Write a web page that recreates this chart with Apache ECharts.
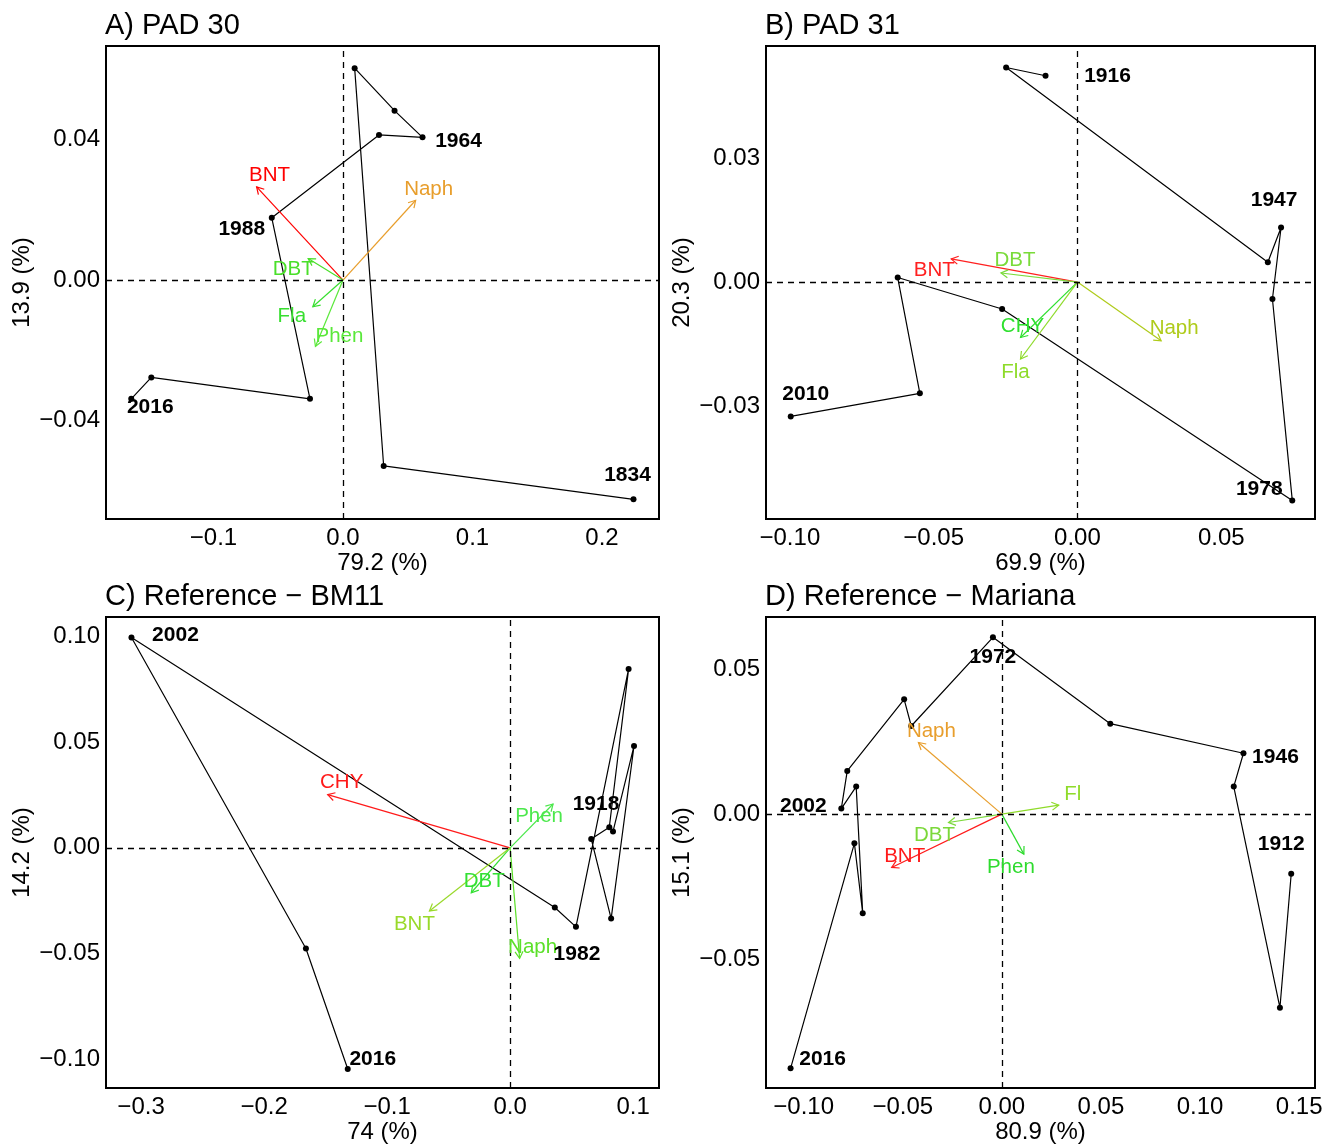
<!DOCTYPE html>
<html><head><meta charset="utf-8">
<script src="https://cdn.jsdelivr.net/npm/echarts@6/dist/echarts.min.js"></script>
<style>html,body{margin:0;padding:0;background:#fff}#c{width:1328px;height:1145px}</style>
</head><body><div id="c"></div>
<script>
// ---------- DATA ----------
// Panel A) PAD 30
const A_siteX = [0.2243, 0.0314, 0.0090, 0.0398, 0.0614, 0.0278, -0.0550, -0.0255, -0.1480, -0.1635];
const A_siteY = [-0.0624, -0.0529, 0.0603, 0.0482, 0.0406, 0.0413, 0.0177, -0.0338, -0.0277, -0.0338];
const A_years = ['1834', '1964', '1988', '2016'];
const A_yearSite = [0, 4, 6, 9];
const A_vars = ['BNT', 'Naph', 'DBT', 'Fla', 'Phen'];
const A_varX = [-0.0667, 0.0561, -0.0269, -0.0233, -0.0213];
const A_varY = [0.0265, 0.0227, 0.0061, -0.0076, -0.0189];
const A_xTicks = [-0.1, 0, 0.1, 0.2];
const A_xTickLabels = ['\u22120.1', '0.0', '0.1', '0.2'];
const A_yTicks = [-0.04, 0, 0.04];
const A_yTickLabels = ['\u22120.04', '0.00', '0.04'];

// Panel B) PAD 31
const B_siteX = [-0.0111, -0.0248, 0.0662, 0.0708, 0.0678, 0.0747, -0.0262, -0.0625, -0.0548, -0.0997];
const B_siteY = [0.0499, 0.0519, 0.0048, 0.0132, -0.0041, -0.0528, -0.0065, 0.0011, -0.0269, -0.0325];
const B_years = ['1916', '1947', '1978', '2010'];
const B_yearSite = [0, 3, 5, 9];
const B_vars = ['BNT', 'DBT', 'CHY', 'Fla', 'Naph'];
const B_varX = [-0.0439, -0.0266, -0.0198, -0.0198, 0.0291];
const B_varY = [0.0056, 0.0022, -0.0134, -0.0186, -0.0142];
const B_xTicks = [-0.10, -0.05, 0, 0.05];
const B_xTickLabels = ['\u22120.10', '\u22120.05', '0.00', '0.05'];
const B_yTicks = [-0.03, 0, 0.03];
const B_yTickLabels = ['\u22120.03', '0.00', '0.03'];

// Panel C) Reference - BM11
const C_siteX = [0.0836, 0.1007, 0.0821, 0.0659, 0.0806, 0.0963, 0.0535, 0.0363, -0.3078, -0.1660, -0.1320];
const C_siteY = [0.0077, 0.0481, -0.0334, 0.0042, 0.0097, 0.0845, -0.0373, -0.0282, 0.0993, -0.0475, -0.1044];
const C_years = ['1918', '1982', '2002', '2016'];
const C_yearSite = [0, 6, 8, 10];
const C_vars = ['CHY', 'Phen', 'DBT', 'BNT', 'Naph'];
const C_varX = [-0.1483, 0.0349, -0.0316, -0.0656, 0.0077];
const C_varY = [0.0251, 0.0207, -0.0212, -0.0298, -0.0522];
const C_xTicks = [-0.3, -0.2, -0.1, 0, 0.1];
const C_xTickLabels = ['\u22120.3', '\u22120.2', '\u22120.1', '0.0', '0.1'];
const C_yTicks = [-0.10, -0.05, 0, 0.05, 0.10];
const C_yTickLabels = ['\u22120.10', '\u22120.05', '0.00', '0.05', '0.10'];

// Panel D) Reference - Mariana
const D_siteX = [0.1460, 0.1403, 0.1170, 0.1219, 0.0547, -0.0045, -0.0457, -0.0493, -0.0780, -0.0810, -0.0735, -0.0702, -0.0744, -0.1066];
const D_siteY = [-0.0206, -0.0668, 0.0095, 0.0210, 0.0312, 0.0610, 0.0304, 0.0396, 0.0149, 0.0019, 0.0095, -0.0342, -0.0101, -0.0877];
const D_years = ['1912', '1946', '1972', '2002', '2016'];
const D_yearSite = [0, 3, 5, 9, 13];
const D_vars = ['Naph', 'Fl', 'DBT', 'BNT', 'Phen'];
const D_varX = [-0.0421, 0.0287, -0.0269, -0.0556, 0.0111];
const D_varY = [0.0247, 0.0031, -0.0029, -0.0184, -0.0138];
const D_xTicks = [-0.10, -0.05, 0, 0.05, 0.10, 0.15];
const D_xTickLabels = ['\u22120.10', '\u22120.05', '0.00', '0.05', '0.10', '0.15'];
const D_yTicks = [-0.05, 0, 0.05];
const D_yTickLabels = ['\u22120.05', '0.00', '0.05'];

// ---------- LAYOUT / STYLE ----------
const FONT = '"Liberation Sans", Arial, sans-serif';
const layout = {
  A: { grid: {left: 106, top: 46, width: 553, height: 473}, xr: [-0.183, 0.244], yr: [-0.068, 0.0666],
       yearOff: [[-6, -24], [36, 4], [-30, 11], [19, 8]],
       varOff: [[13, -12], [13, -11], [-15, 11], [-21, 10], [24, -10]],
       varColor: ['#FF0000', '#E89E2C', '#4ADF2A', '#38DF30', '#5AE83A'] },
  B: { grid: {left: 766, top: 46, width: 549, height: 473}, xr: [-0.1083, 0.0826], yr: [-0.0573, 0.0571],
       yearOff: [[62, 0], [-7, -27], [-33, -11], [15, -22]],
       varOff: [[-17, 11], [14, -13], [2, -11], [-5, 13], [13, -12]],
       varColor: ['#FF2020', '#7ADB3A', '#2EE02E', '#8EDB2A', '#AFCB1A'] },
  C: { grid: {left: 106, top: 617, width: 553, height: 473}, xr: [-0.3285, 0.121], yr: [-0.1134, 0.109],
       yearOff: [[-17, -27], [1, 27], [44, -2], [25, -10]],
       varOff: [[14, -12], [-14, 12], [13, -11], [-15, 13], [13, -11]],
       varColor: ['#FF1A1A', '#4CE84C', '#33E033', '#99D92A', '#5CE02A'] },
  D: { grid: {left: 766, top: 617, width: 549, height: 473}, xr: [-0.119, 0.158], yr: [-0.0945, 0.068],
       yearOff: [[-10, -30], [32, 4], [0, 20], [-38, -2], [32, -9]],
       varOff: [[13, -11], [14, -11], [-14, 13], [13, -11], [-13, 13]],
       varColor: ['#E89E2C', '#8FDB2A', '#7BD83A', '#FF1A1A', '#2EDB2E'] }
};

const panels = [
  {key: 'A', title: 'A) PAD 30', xName: '79.2 (%)', yName: '13.9 (%)', sx: A_siteX, sy: A_siteY, years: A_years, ys: A_yearSite,
   vars: A_vars, vx: A_varX, vy: A_varY, xt: A_xTicks, xtl: A_xTickLabels, yt: A_yTicks, ytl: A_yTickLabels},
  {key: 'B', title: 'B) PAD 31', xName: '69.9 (%)', yName: '20.3 (%)', sx: B_siteX, sy: B_siteY, years: B_years, ys: B_yearSite,
   vars: B_vars, vx: B_varX, vy: B_varY, xt: B_xTicks, xtl: B_xTickLabels, yt: B_yTicks, ytl: B_yTickLabels},
  {key: 'C', title: 'C) Reference \u2212 BM11', xName: '74 (%)', yName: '14.2 (%)', sx: C_siteX, sy: C_siteY, years: C_years, ys: C_yearSite,
   vars: C_vars, vx: C_varX, vy: C_varY, xt: C_xTicks, xtl: C_xTickLabels, yt: C_yTicks, ytl: C_yTickLabels},
  {key: 'D', title: 'D) Reference \u2212 Mariana', xName: '80.9 (%)', yName: '15.1 (%)', sx: D_siteX, sy: D_siteY, years: D_years, ys: D_yearSite,
   vars: D_vars, vx: D_varX, vy: D_varY, xt: D_xTicks, xtl: D_xTickLabels, yt: D_yTicks, ytl: D_yTickLabels}
];

function lookup(ticks, labels) {
  return function (v) {
    for (let i = 0; i < ticks.length; i++) if (Math.abs(ticks[i] - v) < 1e-9) return labels[i];
    return '';
  };
}

const option = {
  animation: false,
  backgroundColor: '#fff',
  title: [], grid: [], xAxis: [], yAxis: [], series: []
};

panels.forEach(function (p, i) {
  const L = layout[p.key];
  option.title.push({
    text: p.title, left: L.grid.left - 1, top: L.grid.top - 35, padding: 0,
    textStyle: {fontSize: 29, fontWeight: 'normal', color: '#000', fontFamily: FONT}
  });
  option.grid.push(Object.assign({show: true, borderColor: '#000', borderWidth: 2, backgroundColor: 'transparent'}, L.grid));
  const labelStyle = {fontSize: 24, color: '#000', fontFamily: FONT};
  option.xAxis.push({
    type: 'value', gridIndex: i, min: L.xr[0], max: L.xr[1],
    axisLine: {show: false}, axisTick: {show: false}, splitLine: {show: false},
    axisLabel: Object.assign({customValues: p.xt, formatter: lookup(p.xt, p.xtl), margin: 7}, labelStyle),
    name: p.xName, nameLocation: 'middle', nameGap: 32, nameTextStyle: labelStyle
  });
  option.yAxis.push({
    type: 'value', gridIndex: i, min: L.yr[0], max: L.yr[1],
    axisLine: {show: false}, axisTick: {show: false}, splitLine: {show: false},
    axisLabel: Object.assign({customValues: p.yt, formatter: lookup(p.yt, p.ytl), margin: 6, padding: [6, 0, 0, 0]}, labelStyle),
    name: p.yName, nameLocation: 'middle', nameGap: 72, nameRotate: 90, nameTextStyle: labelStyle
  });
  // site trajectory
  option.series.push({
    type: 'line', xAxisIndex: i, yAxisIndex: i, z: 3,
    data: p.sx.map(function (x, j) { return [x, p.sy[j]]; }),
    symbol: 'circle', symbolSize: 6, showAllSymbol: true,
    itemStyle: {color: '#000'}, lineStyle: {color: '#000', width: 1.2},
    emphasis: {disabled: true}, silent: true,
    markLine: {
      silent: true, symbol: ['none', 'none'], label: {show: false},
      lineStyle: {type: [6, 5], color: '#000', width: 1.3},
      data: [{xAxis: 0}, {yAxis: 0}]
    }
  });
  // arrows
  option.series.push({
    type: 'custom', xAxisIndex: i, yAxisIndex: i, z: 4, silent: true,
    data: p.vx.map(function (x, j) { return [x, p.vy[j], j]; }),
    encode: {x: 0, y: 1},
    renderItem: function (params, api) {
      const o = api.coord([0, 0]);
      const t = api.coord([api.value(0), api.value(1)]);
      const col = L.varColor[api.value(2)];
      const ang = Math.atan2(t[1] - o[1], t[0] - o[0]);
      const len = 8, a = Math.PI / 6;
      const p1 = [t[0] - len * Math.cos(ang - a), t[1] - len * Math.sin(ang - a)];
      const p2 = [t[0] - len * Math.cos(ang + a), t[1] - len * Math.sin(ang + a)];
      return {type: 'group', children: [
        {type: 'line', shape: {x1: o[0], y1: o[1], x2: t[0], y2: t[1]}, style: {stroke: col, lineWidth: 1.2}},
        {type: 'polyline', shape: {points: [p1, t, p2]}, style: {stroke: col, lineWidth: 1.2, fill: null}}
      ]};
    }
  });
  // variable labels
  option.series.push({
    type: 'custom', xAxisIndex: i, yAxisIndex: i, z: 5, silent: true, clip: false,
    data: p.vx.map(function (x, j) { return [x, p.vy[j], j]; }),
    encode: {x: 0, y: 1},
    renderItem: function (params, api) {
      const j = api.value(2);
      const t = api.coord([api.value(0), api.value(1)]);
      return {type: 'text', x: t[0] + L.varOff[j][0], y: t[1] + L.varOff[j][1],
        style: {text: p.vars[j], fill: L.varColor[j], font: '20.5px ' + FONT, align: 'center', verticalAlign: 'middle'}};
    }
  });
  // year labels
  option.series.push({
    type: 'custom', xAxisIndex: i, yAxisIndex: i, z: 6, silent: true, clip: false,
    data: p.years.map(function (y, j) { return [p.sx[p.ys[j]], p.sy[p.ys[j]], j]; }),
    encode: {x: 0, y: 1},
    renderItem: function (params, api) {
      const j = api.value(2);
      const t = api.coord([api.value(0), api.value(1)]);
      return {type: 'text', x: t[0] + L.yearOff[j][0], y: t[1] + L.yearOff[j][1],
        style: {text: p.years[j], fill: '#000', font: 'bold 21px ' + FONT, align: 'center', verticalAlign: 'middle'}};
    }
  });
});

const chart = echarts.init(document.getElementById('c'), null, {renderer: 'canvas'});
chart.setOption(option);
</script>
</body></html>
